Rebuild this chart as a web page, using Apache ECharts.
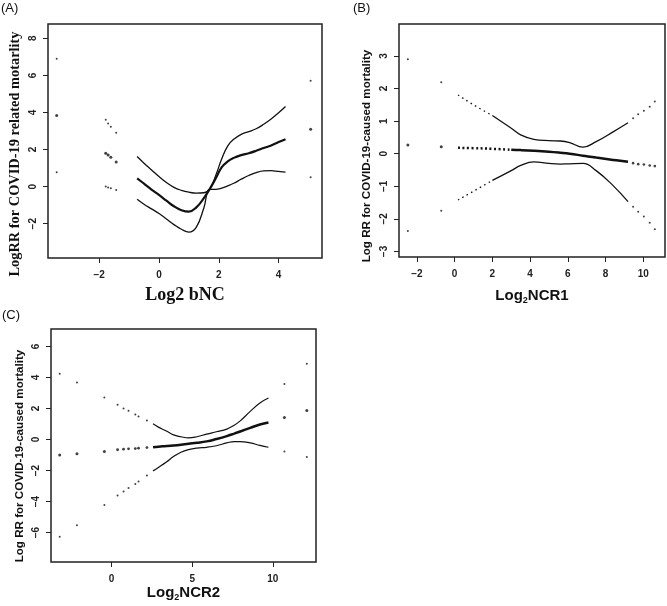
<!DOCTYPE html>
<html><head><meta charset="utf-8">
<script src="https://cdn.jsdelivr.net/npm/echarts@6/dist/echarts.min.js"></script>
<style>html,body{margin:0;padding:0;background:#fff}#c{width:667px;height:606px}</style>
</head><body><div id="c"></div>
<script>
// ---------- Panel A : Log2 bNC ----------
const aTicksX = [-2, 0, 2, 4];
const aTicksY = [-2, 0, 2, 4, 6, 8];
const aX     = [-0.73,-0.5,-0.25,0,0.25,0.5,0.75,1.0,1.25,1.5,1.7,1.9,2.1,2.3,2.5,2.75,3.0,3.25,3.5,3.75,4.0,4.23];
const aUpper = [1.62,1.26,0.90,0.54,0.22,-0.04,-0.20,-0.30,-0.35,-0.33,-0.14,0.62,1.50,2.20,2.55,2.82,2.96,3.12,3.36,3.65,3.98,4.32];
const aMid   = [0.45,0.16,-0.16,-0.45,-0.76,-1.06,-1.27,-1.35,-1.12,-0.62,-0.12,0.45,1.05,1.36,1.55,1.70,1.80,1.93,2.08,2.22,2.40,2.56];
const aLower = [-0.68,-0.95,-1.20,-1.45,-1.75,-2.05,-2.30,-2.45,-2.18,-1.15,-0.14,-0.15,-0.08,0.04,0.18,0.40,0.60,0.76,0.85,0.86,0.82,0.78];
const aClusterX     = [-1.78,-1.70,-1.61,-1.43];
const aClusterUpper = [3.61,3.41,3.23,2.90];
const aClusterMid   = [1.80,1.71,1.58,1.33];
const aClusterLower = [0.00,-0.05,-0.09,-0.18];
const aSideX     = [-3.42, 5.07];
const aSideUpper = [6.90, 5.71];
const aSideMid   = [3.84, 3.10];
const aSideLower = [0.77, 0.50];

// ---------- Panel B : Log2 NCR1 ----------
const bTicksX = [-2, 0, 2, 4, 6, 8, 10];
const bTicksY = [-3, -2, -1, 0, 1, 2, 3];
const bX     = [0.18,1,2,3,3.5,4.2,5,5.6,6.1,6.8,7.5,8.4,9.19];
const bUpper = [1.80,1.50,1.17,0.78,0.58,0.44,0.40,0.39,0.34,0.20,0.37,0.67,0.95];
const bMid   = [0.18,0.17,0.15,0.12,0.11,0.09,0.06,0.03,0.00,-0.06,-0.12,-0.19,-0.25];
const bLower = [-1.42,-1.15,-0.82,-0.52,-0.36,-0.25,-0.30,-0.32,-0.31,-0.30,-0.52,-0.98,-1.47];
const bTailX     = [9.46,9.73,10.03,10.34,10.61];
const bTailUpper = [1.09,1.21,1.32,1.44,1.60];
const bTailMid   = [-0.29,-0.32,-0.33,-0.36,-0.38];
const bTailLower = [-1.63,-1.78,-1.93,-2.12,-2.32];
const bSideX     = [-2.48, -0.71];
const bSideUpper = [2.90, 2.19];
const bSideMid   = [0.27, 0.21];
const bSideLower = [-2.37, -1.75];

// ---------- Panel C : Log2 NCR2 ----------
const cTicksX = [0, 5, 10];
const cTicksY = [-6, -4, -2, 0, 2, 4, 6];
const cX     = [2.57,2.9,3.4,3.84,4.3,4.77,5.3,5.9,6.5,7.15,7.6,7.98,8.6,9.2,9.73];
const cUpper = [1.01,0.80,0.55,0.30,0.18,0.10,0.18,0.35,0.50,0.67,0.92,1.20,1.81,2.35,2.67];
const cMid   = [-0.50,-0.46,-0.42,-0.38,-0.33,-0.27,-0.21,-0.12,0.03,0.22,0.38,0.52,0.75,0.97,1.10];
const cLower = [-2.02,-1.80,-1.45,-1.10,-0.82,-0.65,-0.55,-0.50,-0.40,-0.22,-0.13,-0.13,-0.22,-0.38,-0.50];
const cDotX     = [0.37,0.74,1.05,1.47,1.67,2.19];
const cDotUpper = [2.24,2.00,1.85,1.61,1.48,1.23];
const cDotMid   = [-0.66,-0.62,-0.60,-0.58,-0.56,-0.52];
const cDotLower = [-3.61,-3.35,-3.12,-2.86,-2.71,-2.32];
const cSideX     = [-3.22,-2.15,-0.45,10.72,12.11];
const cSideUpper = [4.24,3.68,2.71,3.57,4.88];
const cSideMid   = [-0.99,-0.92,-0.77,1.42,1.87];
const cSideLower = [-6.26,-5.53,-4.22,-0.77,-1.12];

const INK = '#111';
const pts = (xs, ys) => xs.map((x, i) => [x, ys[i]]);
const line = (i, data, w, type) => ({
  type: 'line', xAxisIndex: i, yAxisIndex: i, data, symbol: 'none', showSymbol: false,
  smooth: 0.45, silent: true, animation: false,
  lineStyle: { color: INK, width: w, type: type || 'solid' }
});
const dots = (i, data, s) => ({
  type: 'scatter', xAxisIndex: i, yAxisIndex: i, data, symbolSize: s, silent: true,
  animation: false, itemStyle: { color: INK }
});
const fmt = v => String(v).replace('-', '\u2212');
const tickLabel = { fontFamily: 'Liberation Sans', fontSize: 10, fontWeight: 'bold', color: '#222', formatter: fmt };

function xAxis(i, min, max, ticks, name, nameGap, nameStyle) {
  return {
    type: 'value', gridIndex: i, min, max, name, nameLocation: 'middle', nameGap,
    nameTextStyle: nameStyle,
    axisLine: { show: false, onZero: false },
    axisTick: { show: true, inside: false, length: 5, customValues: ticks, lineStyle: { color: '#222', width: 1 } },
    axisLabel: Object.assign({ customValues: ticks, margin: 12 }, tickLabel),
    splitLine: { show: false }
  };
}
function yAxis(i, min, max, ticks) {
  return {
    type: 'value', gridIndex: i, min, max,
    axisLine: { show: false, onZero: false },
    axisTick: { show: true, inside: false, length: 5, customValues: ticks, lineStyle: { color: '#222', width: 1 } },
    axisLabel: Object.assign({ customValues: ticks, margin: 10, rotate: 90 }, tickLabel),
    splitLine: { show: false }
  };
}
const gridBox = { show: true, borderColor: '#222', borderWidth: 1.5, backgroundColor: 'transparent' };
const subName = {
  rich: {
    a: { fontFamily: 'Liberation Sans', fontWeight: 'bold', fontSize: 15, color: '#111', lineHeight: 18 },
    s: { fontFamily: 'Liberation Sans', fontWeight: 'bold', fontSize: 9, color: '#111', lineHeight: 9, verticalAlign: 'bottom' }
  }
};
const yTitle = (x, y, text, font) => ({
  type: 'text', x, y, rotation: Math.PI / 2,
  style: { text, font, fill: '#111', align: 'center', verticalAlign: 'middle' }
});

const option = {
  backgroundColor: '#fff',
  animation: false,
  grid: [
    Object.assign({ left: 48, top: 24, width: 274, height: 234 }, gridBox),
    Object.assign({ left: 399, top: 24, width: 266, height: 233 }, gridBox),
    Object.assign({ left: 51, top: 329, width: 265, height: 233 }, gridBox)
  ],
  xAxis: [
    xAxis(0, -3.71, 5.45, aTicksX, 'Log2 bNC', 28, { fontFamily: 'Liberation Serif', fontWeight: 'bold', fontSize: 18, color: '#111' }),
    xAxis(1, -2.95, 11.15, bTicksX, '{a|Log}{s|2}{a|NCR1}', 30, subName),
    xAxis(2, -3.76, 12.68, cTicksX, '{a|Log}{s|2}{a|NCR2}', 22, subName)
  ],
  yAxis: [
    yAxis(0, -3.85, 8.77, aTicksY),
    yAxis(1, -3.17, 3.98, bTicksY),
    yAxis(2, -7.89, 7.12, cTicksY)
  ],
  graphic: [
    { type: 'text', left: 1, top: 2, style: { text: '(A)', font: '13px Liberation Sans', fill: '#111' } },
    { type: 'text', left: 353, top: 2, style: { text: '(B)', font: '13px Liberation Sans', fill: '#111' } },
    { type: 'text', left: 2, top: 309, style: { text: '(C)', font: '13px Liberation Sans', fill: '#111' } },
    yTitle(15, 154, 'LogRR for COVID-19 related motarlity', 'bold 14.4px Liberation Serif'),
    yTitle(367, 156, 'Log RR for COVID-19-caused mortality', 'bold 11.6px Liberation Sans'),
    yTitle(20, 456, 'Log RR for COVID-19-caused mortality', 'bold 11.6px Liberation Sans')
  ],
  series: [
    // A
    line(0, pts(aX, aUpper), 1.3),
    line(0, pts(aX, aMid), 2.2),
    line(0, pts(aX, aLower), 1.3),
    dots(0, pts(aClusterX, aClusterUpper), 2),
    dots(0, pts(aClusterX, aClusterMid), 3),
    dots(0, pts(aClusterX, aClusterLower), 2),
    dots(0, pts(aSideX, aSideUpper), 2),
    dots(0, pts(aSideX, aSideMid), 3),
    dots(0, pts(aSideX, aSideLower), 2),
    // B
    line(1, pts(bX.slice(0, 3), bUpper.slice(0, 3)), 1.3, [1.5, 3.5]),
    line(1, pts(bX.slice(2), bUpper.slice(2)), 1.3),
    line(1, pts(bX.slice(0, 4), bMid.slice(0, 4)), 2.5, [2, 2.5]),
    line(1, pts(bX.slice(3), bMid.slice(3)), 2.5),
    line(1, pts(bX.slice(0, 3), bLower.slice(0, 3)), 1.3, [1.5, 3.5]),
    line(1, pts(bX.slice(2), bLower.slice(2)), 1.3),
    dots(1, pts(bTailX, bTailUpper), 2),
    dots(1, pts(bTailX, bTailMid), 2.6),
    dots(1, pts(bTailX, bTailLower), 2),
    dots(1, pts(bSideX, bSideUpper), 2),
    dots(1, pts(bSideX, bSideMid), 3),
    dots(1, pts(bSideX, bSideLower), 2),
    // C
    line(2, pts(cX, cUpper), 1.2),
    line(2, pts(cX, cMid), 2.5),
    line(2, pts(cX, cLower), 1.2),
    dots(2, pts(cDotX, cDotUpper), 2),
    dots(2, pts(cDotX, cDotMid), 2.8),
    dots(2, pts(cDotX, cDotLower), 2),
    dots(2, pts(cSideX, cSideUpper), 2),
    dots(2, pts(cSideX, cSideMid), 3),
    dots(2, pts(cSideX, cSideLower), 2)
  ]
};
const chart = echarts.init(document.getElementById('c'), null, { renderer: 'canvas' });
chart.setOption(option);
</script>
</body></html>
